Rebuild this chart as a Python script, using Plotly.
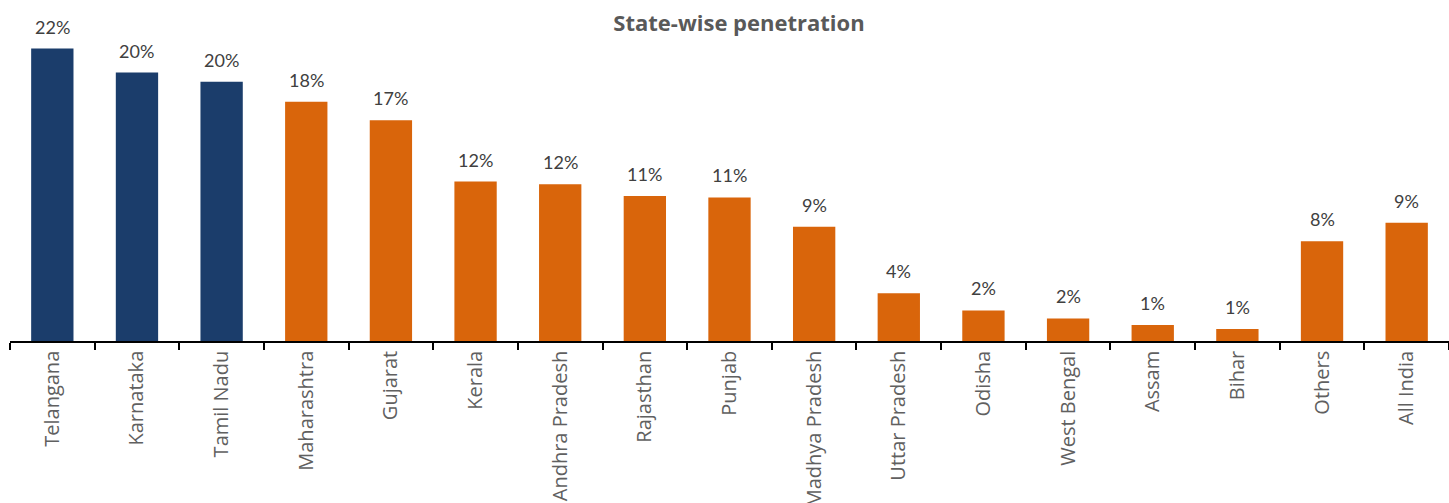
import plotly.graph_objects as go

# State-wise penetration (%)
states = ["Telangana", "Karnataka", "Tamil Nadu", "Maharashtra", "Gujarat", "Kerala",
          "Andhra Pradesh", "Rajasthan", "Punjab", "Madhya Pradesh", "Uttar Pradesh",
          "Odisha", "West Bengal", "Assam", "Bihar", "Others", "All India"]
penetration = [22.0, 20.2, 19.5, 18.0, 16.6, 12.0, 11.8, 10.9, 10.8, 8.6, 3.6,
               2.3, 1.7, 1.2, 0.9, 7.5, 8.9]
top_states = {"Telangana", "Karnataka", "Tamil Nadu"}

NAVY = "#1B3D6B"
ORANGE = "#D9650B"
colors = [NAVY if s in top_states else ORANGE for s in states]

fig = go.Figure(go.Bar(
    x=states, y=penetration, marker_color=colors, width=0.5,
    marker_line_width=0, hoverinfo="skip",
))

for s, v in zip(states, penetration):
    fig.add_annotation(x=s, y=v, text=f"{round(v)}%", showarrow=False,
                       yanchor="bottom", yshift=9,
                       font=dict(family="Lato", size=18, color="#404040"))

fig.update_layout(
    width=1449, height=503,
    margin=dict(l=10, r=0, t=22, b=162),
    plot_bgcolor="white", paper_bgcolor="white",
    showlegend=False,
    title=dict(text="<b>State-wise penetration</b>", x=0.51, xanchor="center",
               y=0.953, yanchor="middle",
               font=dict(family="Open Sans", size=22, color="#595959")),
    xaxis=dict(type="category", tickangle=-90, tickson="boundaries",
               ticks="outside", ticklen=7, tickwidth=1.5, tickcolor="black",
               showline=True, linecolor="black", linewidth=1.5,
               tickfont=dict(family="Open Sans", size=20, color="#606060"),
               showgrid=False, automargin=False),
    yaxis=dict(range=[0, 24], visible=False, showgrid=False, zeroline=False),
)

fig.write_html("out.html")
